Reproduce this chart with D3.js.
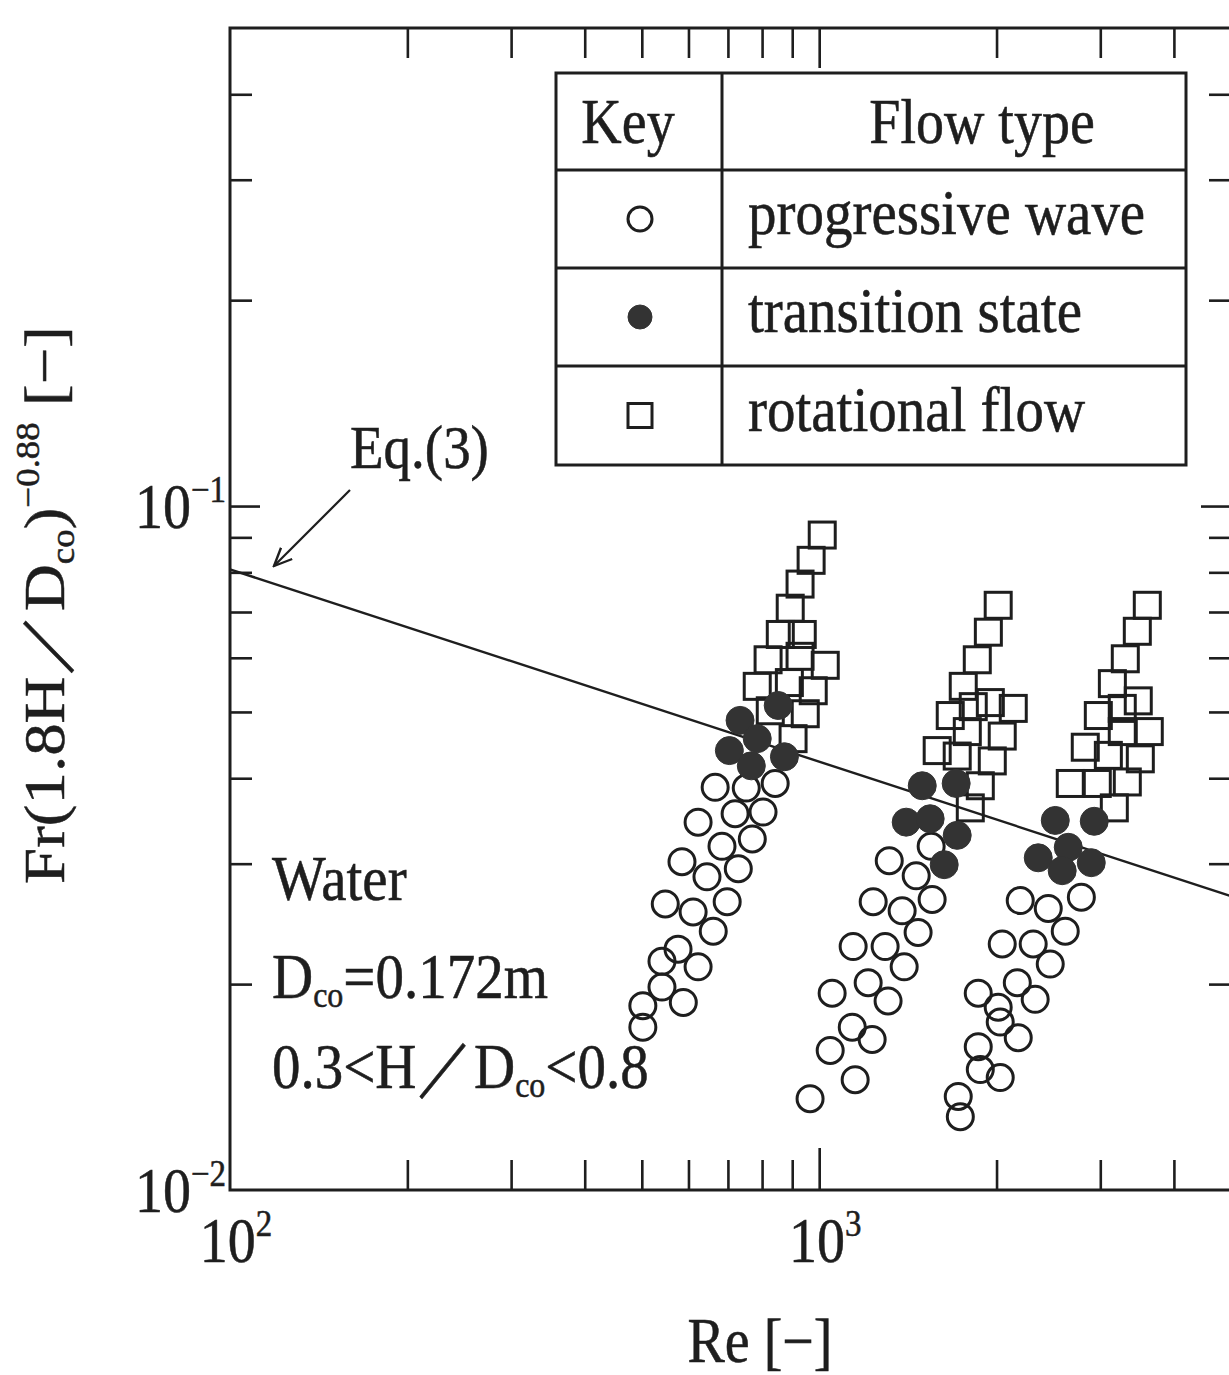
<!DOCTYPE html>
<html>
<head>
<meta charset="utf-8">
<script src="https://d3js.org/d3.v7.min.js"></script>
<style>
  body { margin: 0; background: #fff; }
  svg text { font-family: "Liberation Serif", "Times New Roman", serif; fill: #1e1e1e; stroke: #1e1e1e; stroke-width: 0.5; }
</style>
</head>
<body>
<div id="chart"></div>
<script>
const W = 1229, H = 1375;

// progressive wave (open circles), three groups
const progressiveRe = [
  666, 752, 842, 623, 720, 803, 585, 684, 770, 548, 645, 729, 611, 698, 661, 576, 623, 541, 541, 588, 502, 502,
  1315, 1461, 1549, 1555, 1235, 1383, 1472, 1294, 1142, 1394, 1211, 1309, 1052, 1138, 1230, 1044, 1151, 965,
  2194, 2448, 2786, 2616, 2045, 2308, 2467, 2169, 1862, 2326, 2013, 2029, 2177, 1862, 1877, 2029, 1722, 1736
];
const progressiveFr = [
  0.0388, 0.0387, 0.0393, 0.0345, 0.0355, 0.0357, 0.0302, 0.0318, 0.0326, 0.0262, 0.0287, 0.0295, 0.0255, 0.0264, 0.0239, 0.0225, 0.0212, 0.0216, 0.0198, 0.0188, 0.0186, 0.0173,
  0.0303, 0.0288, 0.0318, 0.0266, 0.0264, 0.0256, 0.0238, 0.0227, 0.0227, 0.0212, 0.0201, 0.0189, 0.0194, 0.0173, 0.0166, 0.0160, 0.0145, 0.0136,
  0.0265, 0.0258, 0.0268, 0.0239, 0.0229, 0.0229, 0.0214, 0.0201, 0.0194, 0.0190, 0.0185, 0.0176, 0.0167, 0.0162, 0.0150, 0.0146, 0.0137, 0.0128
];

// transition state (filled circles)
const transitionRe = [734, 704, 785, 767, 852, 873, 1496, 1708, 1405, 1543, 1715, 1630, 2516, 2930, 2354, 2647, 2896, 2585];
const transitionFr = [0.0486, 0.0439, 0.0457, 0.0417, 0.0511, 0.0430, 0.0390, 0.0393, 0.0345, 0.0349, 0.0330, 0.0299, 0.0347, 0.0346, 0.0306, 0.0317, 0.0301, 0.0293];

// rotational flow (open squares)
const rotationalRe = [
  1012, 969, 928, 893, 859, 936, 819, 928, 1024, 785, 890, 977, 826, 947, 903,
  2013, 1937, 1855, 1756, 1669, 1826, 1952, 2135, 1784, 2045, 1586, 1715, 1967, 1877, 1805,
  3605, 3467, 3308, 3145, 3480, 2977, 3269, 3633, 3269, 2829, 3096, 3508, 2668, 2965, 3334, 3169
];
const rotationalFr = [
  0.0907, 0.0833, 0.0769, 0.0709, 0.0649, 0.0649, 0.0596, 0.0603, 0.0585, 0.0545, 0.0552, 0.0537, 0.0502, 0.0497, 0.0457,
  0.0716, 0.0654, 0.0596, 0.0545, 0.0494, 0.0509, 0.0516, 0.0506, 0.0468, 0.0461, 0.0439, 0.0431, 0.0424, 0.0390, 0.0362,
  0.0716, 0.0656, 0.0598, 0.0550, 0.0519, 0.0494, 0.0506, 0.0468, 0.0468, 0.0444, 0.0432, 0.0427, 0.0393, 0.0393, 0.0395, 0.0362
];

// Eq.(3) line
const eqRe = [100, 5000];
const eqFr = [0.0808, 0.0269];

// ticks
const xMinorTicks = [200, 300, 400, 500, 600, 700, 800, 900, 2000, 3000, 4000];
const xMajorTicks = [1000];
const yMinorTicks = [0.02, 0.03, 0.04, 0.05, 0.06, 0.07, 0.08, 0.09, 0.2, 0.3, 0.4];
const yMajorTicks = [0.1];
const xLabelValues = [100, 1000];
const xLabelExps = ["2", "3"];
const yLabelValues = [0.1, 0.01];
const yLabelExps = ["\u22121", "\u22122"];

const legendNames = ["progressive wave", "transition state", "rotational flow"];
const legendShapes = ["open", "filled", "square"];

const INK = "#1e1e1e";
const STRETCH = "scale(1,1.12)";
const SLASH = "\uFF0F";

const svg = d3.select("#chart").append("svg")
  .attr("width", W).attr("height", H)
  .style("background", "#fff");

const x = d3.scaleLog().domain([100, 5000]).range([230, 1231]);
const y = d3.scaleLog().domain([0.01, 0.5]).range([1190, 28]);

const plotLeft = x.range()[0], plotRight = x.range()[1];
const plotTop = y.range()[1], plotBottom = y.range()[0];

// helper for the slightly tall serif text of the scan
function label(g, px, py, size, anchor) {
  return g.append("text")
    .attr("transform", `translate(${px},${py}) ${STRETCH}`)
    .attr("font-size", size)
    .attr("text-anchor", anchor || "start");
}

// ticks, all pointing inward
function tickAxis(axis, values, len, transform) {
  svg.append("g")
    .attr("transform", transform)
    .call(axis.tickValues(values).tickSize(len).tickSizeOuter(0).tickFormat(""))
    .call(g => g.select(".domain").remove())
    .call(g => g.selectAll(".tick line").attr("stroke", INK).attr("stroke-width", 2.6));
}
tickAxis(d3.axisBottom(x), xMinorTicks, -30, `translate(0,${plotBottom})`);
tickAxis(d3.axisBottom(x), xMajorTicks, -42, `translate(0,${plotBottom})`);
tickAxis(d3.axisTop(x), xMinorTicks, -30, `translate(0,${plotTop})`);
tickAxis(d3.axisTop(x), xMajorTicks, -40, `translate(0,${plotTop})`);
tickAxis(d3.axisLeft(y), yMinorTicks, -22, `translate(${plotLeft},0)`);
tickAxis(d3.axisLeft(y), yMajorTicks, -30, `translate(${plotLeft},0)`);
tickAxis(d3.axisRight(y), yMinorTicks, -22, `translate(${plotRight},0)`);
tickAxis(d3.axisRight(y), yMajorTicks, -30, `translate(${plotRight},0)`);

// frame
svg.append("rect")
  .attr("x", plotLeft).attr("y", plotTop)
  .attr("width", plotRight - plotLeft).attr("height", plotBottom - plotTop)
  .attr("fill", "none").attr("stroke", INK).attr("stroke-width", 3);

// tick labels
xLabelValues.forEach((v, i) => {
  const t = label(svg, x(v) + 6, 1262, 56, "middle");
  t.append("tspan").text("10");
  t.append("tspan").attr("font-size", 33).attr("dy", -23).text(xLabelExps[i]);
});
yLabelValues.forEach((v, i) => {
  const t = label(svg, 226, y(v) + 22, 56, "end");
  t.append("tspan").text("10");
  t.append("tspan").attr("font-size", 33).attr("dy", -23).text(yLabelExps[i]);
});

// axis titles
const xt = label(svg, 760, 1362, 56, "middle");
xt.text("Re [\u2212]");

const yt = svg.append("text")
  .attr("transform", `translate(64,605) ${STRETCH} rotate(-90)`)
  .attr("font-size", 58)
  .attr("text-anchor", "middle");
yt.append("tspan").text("Fr(1.8H");
yt.append("tspan").text(SLASH);
yt.append("tspan").text("D");
yt.append("tspan").attr("font-size", 33).attr("dy", 10).text("co");
yt.append("tspan").attr("dy", -10).text(")");
yt.append("tspan").attr("font-size", 33).attr("dy", -25).text("\u22120.88");
yt.append("tspan").attr("dy", 25).text(" [\u2212]");

// Eq.(3) line
const eqData = eqRe.map((r, i) => [r, eqFr[i]]);
svg.append("path")
  .datum(eqData)
  .attr("fill", "none").attr("stroke", INK).attr("stroke-width", 2.4)
  .attr("d", d3.line().x(d => x(d[0])).y(d => y(d[1])));

// Eq.(3) label and arrow
label(svg, 350, 468, 55).text("Eq.(3)");
svg.append("defs").append("marker")
  .attr("id", "arrow").attr("viewBox", "0 0 10 10")
  .attr("refX", 9).attr("refY", 5)
  .attr("markerWidth", 9).attr("markerHeight", 9)
  .attr("orient", "auto")
  .append("path").attr("d", "M0,1 L9,5 L0,9").attr("fill", "none")
  .attr("stroke", INK).attr("stroke-width", 1.2);
svg.append("line")
  .attr("x1", 350).attr("y1", 490).attr("x2", 274).attr("y2", 566)
  .attr("stroke", INK).attr("stroke-width", 2.2)
  .attr("marker-end", "url(#arrow)");

// annotation
label(svg, 272, 900, 57).text("Water");
const d1 = label(svg, 272, 998, 57);
d1.append("tspan").text("D");
d1.append("tspan").attr("font-size", 32).attr("dy", 8).text("co");
d1.append("tspan").attr("dy", -8).text("=0.172m");
const d2 = label(svg, 272, 1088, 57);
d2.append("tspan").text("0.3<H");
d2.append("tspan").text(SLASH);
d2.append("tspan").text("D");
d2.append("tspan").attr("font-size", 32).attr("dy", 8).text("co");
d2.append("tspan").attr("dy", -8).text("<0.8");

// markers
const R = 13, S = 26;
const rotData = rotationalRe.map((r, i) => ({ re: r, fr: rotationalFr[i] }));
const progData = progressiveRe.map((r, i) => ({ re: r, fr: progressiveFr[i] }));
const tranData = transitionRe.map((r, i) => ({ re: r, fr: transitionFr[i] }));

svg.append("g").selectAll("rect").data(rotData).enter().append("rect")
  .attr("x", d => x(d.re) - S / 2).attr("y", d => y(d.fr) - S / 2)
  .attr("width", S).attr("height", S)
  .attr("fill", "none").attr("stroke", INK).attr("stroke-width", 3);

svg.append("g").selectAll("circle").data(progData).enter().append("circle")
  .attr("cx", d => x(d.re)).attr("cy", d => y(d.fr)).attr("r", R)
  .attr("fill", "none").attr("stroke", INK).attr("stroke-width", 3);

svg.append("g").selectAll("circle").data(tranData).enter().append("circle")
  .attr("cx", d => x(d.re)).attr("cy", d => y(d.fr)).attr("r", R + 1)
  .attr("fill", "#333").attr("stroke", "#333").attr("stroke-width", 1);

// legend table
const lg = svg.append("g");
const lx0 = 556, lx1 = 722, lx2 = 1186;
const rowY = [73, 170, 268, 366, 465];
lg.append("rect")
  .attr("x", lx0).attr("y", rowY[0])
  .attr("width", lx2 - lx0).attr("height", rowY[4] - rowY[0])
  .attr("fill", "#fff").attr("stroke", INK).attr("stroke-width", 3);
lg.append("line").attr("x1", lx1).attr("x2", lx1).attr("y1", rowY[0]).attr("y2", rowY[4])
  .attr("stroke", INK).attr("stroke-width", 3);
rowY.slice(1, 4).forEach(ry => {
  lg.append("line").attr("x1", lx0).attr("x2", lx2).attr("y1", ry).attr("y2", ry)
    .attr("stroke", INK).attr("stroke-width", 3);
});
label(lg, 628, 143, 56, "middle").text("Key");
label(lg, 982, 143, 56, "middle").text("Flow type");

legendNames.forEach((name, i) => {
  const cy = (rowY[i + 1] + rowY[i + 2]) / 2;
  const cx = 640;
  if (legendShapes[i] === "square") {
    lg.append("rect").attr("x", cx - 12).attr("y", cy - 12).attr("width", 24).attr("height", 24)
      .attr("fill", "none").attr("stroke", INK).attr("stroke-width", 3);
  } else {
    lg.append("circle").attr("cx", cx).attr("cy", cy).attr("r", 12)
      .attr("fill", legendShapes[i] === "filled" ? "#333" : "none")
      .attr("stroke", legendShapes[i] === "filled" ? "#333" : INK)
      .attr("stroke-width", legendShapes[i] === "filled" ? 1 : 3);
  }
  label(lg, 748, cy + 15, 57).text(name);
});
</script>
</body>
</html>
